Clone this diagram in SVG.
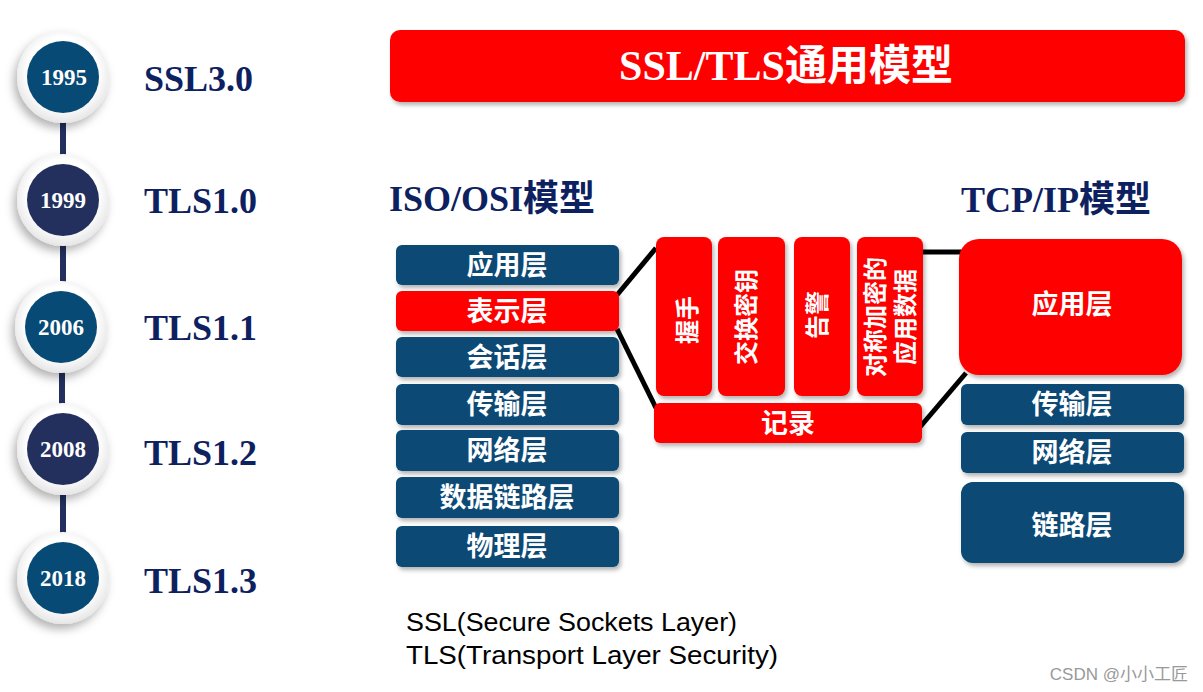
<svg xmlns="http://www.w3.org/2000/svg" width="1203" height="692" viewBox="0 0 1203 692">
<style>
.ver{font-family:"Liberation Serif","Noto Sans CJK SC",serif;font-weight:bold;font-size:36px;fill:#0d2160}
.yr{font-family:"Liberation Serif",serif;font-weight:bold;font-size:23px;fill:#fff;text-anchor:middle}
.hd{font-family:"Liberation Serif","Noto Sans CJK SC",serif;font-weight:bold;font-size:36px;fill:#0d2160}
.lbl{font-family:"Noto Sans CJK SC","Liberation Sans",sans-serif;font-weight:bold;font-size:27px;fill:#fff;text-anchor:middle}
.vl{font-family:"Noto Sans CJK SC","Liberation Sans",sans-serif;font-weight:bold;font-size:24px;fill:#fff;text-anchor:middle}
.blue{fill:#074a75}
.red{fill:#ff0000}
.conn{stroke:#000;stroke-width:5;fill:none}
.tl{stroke:#23305e;stroke-width:6}
.note{font-family:"Liberation Sans",sans-serif;font-size:26px;fill:#000}
</style>
<defs>
<filter id="sh" x="-20%" y="-20%" width="150%" height="150%">
<feDropShadow dx="2" dy="3" stdDeviation="2" flood-color="#000" flood-opacity="0.3"/>
</filter>
<filter id="csh" x="-40%" y="-40%" width="180%" height="180%">
<feDropShadow dx="-3" dy="5" stdDeviation="5" flood-color="#000" flood-opacity="0.3"/>
</filter>
<radialGradient id="wg" cx="0.5" cy="0.45" r="0.55">
<stop offset="0.7" stop-color="#ffffff"/>
<stop offset="1" stop-color="#e6e6e6"/>
</radialGradient>
</defs>
<rect width="1203" height="692" fill="#fff"/>

<g id="connectors">
<line class="tl" x1="63" y1="120" x2="63" y2="160"/>
<line class="tl" x1="63" y1="245" x2="63" y2="285"/>
<line class="tl" x1="62" y1="372" x2="62" y2="405"/>
<line class="tl" x1="63" y1="495" x2="63" y2="535"/>
<polyline class="conn" points="617,295 656,248"/>
<polyline class="conn" points="617,329 656,408"/>
<polyline class="conn" points="921,252 963,252"/>
<polyline class="conn" points="920,427 966,373"/>
</g>

<g id="t1995">
<circle cx="63" cy="77" r="46" fill="url(#wg)" filter="url(#csh)"/>
<circle cx="63" cy="77" r="36" fill="#074a75"/>
<text class="yr" x="64" y="85">1995</text>
<text class="ver" x="144" y="91">SSL3.0</text>
</g>
<g id="t1999">
<circle cx="63" cy="200" r="46" fill="url(#wg)" filter="url(#csh)"/>
<circle cx="63" cy="200" r="36" fill="#23305e"/>
<text class="yr" x="63" y="208">1999</text>
<text class="ver" x="144" y="213">TLS1.0</text>
</g>
<g id="t2006">
<circle cx="61" cy="327" r="46" fill="url(#wg)" filter="url(#csh)"/>
<circle cx="61" cy="327" r="36" fill="#074a75"/>
<text class="yr" x="61" y="335">2006</text>
<text class="ver" x="144" y="340">TLS1.1</text>
</g>
<g id="t2008">
<circle cx="63" cy="449" r="46" fill="url(#wg)" filter="url(#csh)"/>
<circle cx="63" cy="449" r="36" fill="#23305e"/>
<text class="yr" x="63" y="457">2008</text>
<text class="ver" x="144" y="465">TLS1.2</text>
</g>
<g id="t2018">
<circle cx="63" cy="578" r="46" fill="url(#wg)" filter="url(#csh)"/>
<circle cx="63" cy="578" r="36" fill="#074a75"/>
<text class="yr" x="63" y="586">2018</text>
<text class="ver" x="144" y="593">TLS1.3</text>
</g>

<g id="title">
<rect x="390" y="30" width="795" height="72" rx="10" class="red" filter="url(#sh)"/>
<text x="786" y="80" text-anchor="middle" font-family="Liberation Serif,Noto Sans CJK SC,serif" font-weight="bold" font-size="42" fill="#fff">SSL/TLS通用模型</text>
</g>

<g id="iso-title"><text class="hd" x="389" y="211">ISO/OSI模型</text></g>
<g id="tcp-title"><text class="hd" x="961" y="212">TCP/IP模型</text></g>

<g id="osi-app"><rect x="396" y="245" width="223" height="40" rx="6" class="blue" filter="url(#sh)"/><text class="lbl" x="507" y="275">应用层</text></g>
<g id="osi-pres"><rect x="396" y="291" width="223" height="40" rx="6" class="red" filter="url(#sh)"/><text class="lbl" x="507" y="321">表示层</text></g>
<g id="osi-sess"><rect x="396" y="337" width="223" height="40" rx="6" class="blue" filter="url(#sh)"/><text class="lbl" x="507" y="367">会话层</text></g>
<g id="osi-trans"><rect x="396" y="384" width="223" height="41" rx="6" class="blue" filter="url(#sh)"/><text class="lbl" x="507" y="414">传输层</text></g>
<g id="osi-net"><rect x="396" y="430" width="223" height="41" rx="6" class="blue" filter="url(#sh)"/><text class="lbl" x="507" y="460">网络层</text></g>
<g id="osi-link"><rect x="396" y="477" width="223" height="41" rx="6" class="blue" filter="url(#sh)"/><text class="lbl" x="507" y="507">数据链路层</text></g>
<g id="osi-phy"><rect x="396" y="526" width="223" height="41" rx="6" class="blue" filter="url(#sh)"/><text class="lbl" x="507" y="556">物理层</text></g>

<g id="handshake"><rect x="656" y="237" width="56" height="159" rx="8" class="red" filter="url(#sh)"/><text class="vl" transform="translate(696,320) rotate(-90)">握手</text></g>
<g id="keyex"><rect x="718" y="237" width="67" height="159" rx="8" class="red" filter="url(#sh)"/><text class="vl" transform="translate(755,317) rotate(-90)">交换密钥</text></g>
<g id="alert"><rect x="794" y="237" width="56" height="159" rx="8" class="red" filter="url(#sh)"/><text class="vl" transform="translate(826,315) rotate(-90)">告警</text></g>
<g id="appdata"><rect x="857" y="237" width="66" height="159" rx="8" class="red" filter="url(#sh)"/><text class="vl" transform="translate(884,317) rotate(-90)">对称加密的</text><text class="vl" transform="translate(914,317) rotate(-90)">应用数据</text></g>
<g id="record"><rect x="654" y="403" width="268" height="40" rx="6" class="red" filter="url(#sh)"/><text class="lbl" x="788" y="433">记录</text></g>

<g id="tcp-app"><rect x="959" y="239" width="223" height="136" rx="20" class="red" filter="url(#sh)"/><text class="lbl" x="1072" y="314">应用层</text></g>
<g id="tcp-trans"><rect x="961" y="384" width="223" height="41" rx="6" class="blue" filter="url(#sh)"/><text class="lbl" x="1072" y="414">传输层</text></g>
<g id="tcp-net"><rect x="961" y="432" width="223" height="41" rx="6" class="blue" filter="url(#sh)"/><text class="lbl" x="1072" y="462">网络层</text></g>
<g id="tcp-link"><rect x="961" y="482" width="223" height="81" rx="12" class="blue" filter="url(#sh)"/><text class="lbl" x="1072" y="535">链路层</text></g>

<g id="notes">
<text class="note" x="406" y="631" textLength="331" lengthAdjust="spacingAndGlyphs">SSL(Secure Sockets Layer)</text>
<text class="note" x="406" y="664" textLength="372" lengthAdjust="spacingAndGlyphs">TLS(Transport Layer Security)</text>
</g>
<text x="1188" y="680" text-anchor="end" font-family="Liberation Sans,Noto Sans CJK SC,sans-serif" font-size="17" fill="#999">CSDN @小小工匠</text>
</svg>
